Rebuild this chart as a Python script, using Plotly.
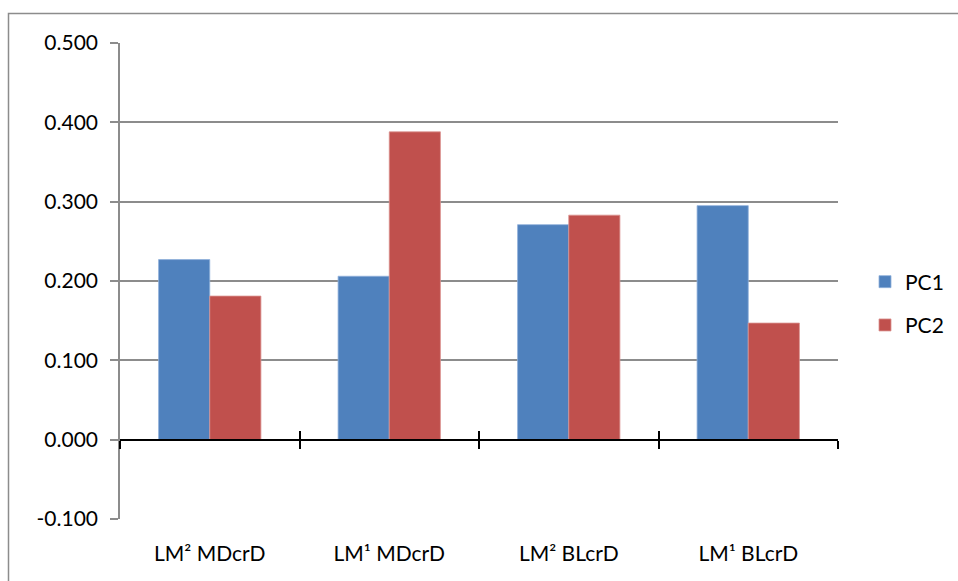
import plotly.graph_objects as go

categories = ["LM\u00b2 MDcrD", "LM\u00b9 MDcrD", "LM\u00b2 BLcrD", "LM\u00b9 BLcrD"]
pc1 = [0.227, 0.206, 0.271, 0.295]
pc2 = [0.181, 0.388, 0.283, 0.147]
series_names = ["PC1", "PC2"]
y_ticks = [-0.1, 0.0, 0.1, 0.2, 0.3, 0.4, 0.5]

FONT = "Lato"
W, H = 958, 581
ML, MR, MT, MB = 120, 120, 43, 62
PW, PH = W - ML - MR, H - MT - MB
ymin, ymax = -0.1, 0.5

fig = go.Figure()
fig.add_trace(go.Bar(x=categories, y=pc1, name=series_names[0], legendgroup="g1",
                     marker=dict(color="#4F81BD", line=dict(color="#8FB0DA", width=0.8))))
fig.add_trace(go.Bar(x=categories, y=pc2, name=series_names[1], legendgroup="g2",
                     marker=dict(color="#C0504D", line=dict(color="#DB9391", width=0.8))))

n = len(categories)
bounds = [i - 0.5 for i in range(n + 1)]
zero_pos = (0 - ymin) / (ymax - ymin)

common_zero = dict(overlaying="x", anchor="free", position=zero_pos, range=[-0.5, n - 0.5],
                   tickvals=bounds, showticklabels=False, showgrid=False, zeroline=False,
                   showline=True, linecolor="black", linewidth=2, tickcolor="black",
                   tickwidth=2, ticklen=8)

fig.update_layout(
    width=W, height=H,
    margin=dict(l=ML, r=MR, t=MT, b=MB, autoexpand=False),
    paper_bgcolor="white", plot_bgcolor="white",
    barmode="group", bargap=0.43, bargroupgap=0,
    font=dict(family=FONT, size=21, color="black"),
    showlegend=True,
    legend=dict(xref="container", yref="container", x=865 / W, y=1 - 303.5 / H,
                xanchor="left", yanchor="middle",
                font=dict(family=FONT, size=21), itemwidth=30, tracegroupgap=13,
                bgcolor="rgba(0,0,0,0)"),
    xaxis=dict(type="category", showline=False, showgrid=False, zeroline=False,
               ticks="outside", ticklen=16, tickcolor="rgba(0,0,0,0)",
               tickfont=dict(family=FONT, size=21), range=[-0.5, n - 0.5]),
    xaxis2=dict(common_zero, ticks="outside"),
    xaxis3=dict(common_zero, ticks="inside"),
    yaxis=dict(range=[ymin, ymax], tickvals=y_ticks,
               ticktext=[f"{v:.3f}" for v in y_ticks],
               showgrid=True, gridcolor="#8C8C8C", gridwidth=1.5,
               zeroline=False, showline=True, linecolor="#8C8C8C", linewidth=1.5,
               ticks="outside", ticklen=8, tickcolor="#8C8C8C", tickwidth=1.5,
               ticklabelstandoff=8, tickfont=dict(family=FONT, size=21)),
)

# invisible helper traces to activate the zero-line axes
fig.add_trace(go.Scatter(x=[bounds[0]], y=[0], xaxis="x2", mode="markers",
                         marker=dict(opacity=0), showlegend=False, hoverinfo="skip"))
fig.add_trace(go.Scatter(x=[bounds[0]], y=[0], xaxis="x3", mode="markers",
                         marker=dict(opacity=0), showlegend=False, hoverinfo="skip"))

# outer chart-area border
fig.add_shape(type="rect", xref="paper", yref="paper",
              x0=(8.5 - ML) / PW, x1=(W + 20 - ML) / PW,
              y0=-(MB + 20) / PH, y1=(H - 13.5 - MB) / PH,
              line=dict(color="#8C8C8C", width=1.5), fillcolor="rgba(0,0,0,0)", layer="below")

fig.write_html("out.html")
